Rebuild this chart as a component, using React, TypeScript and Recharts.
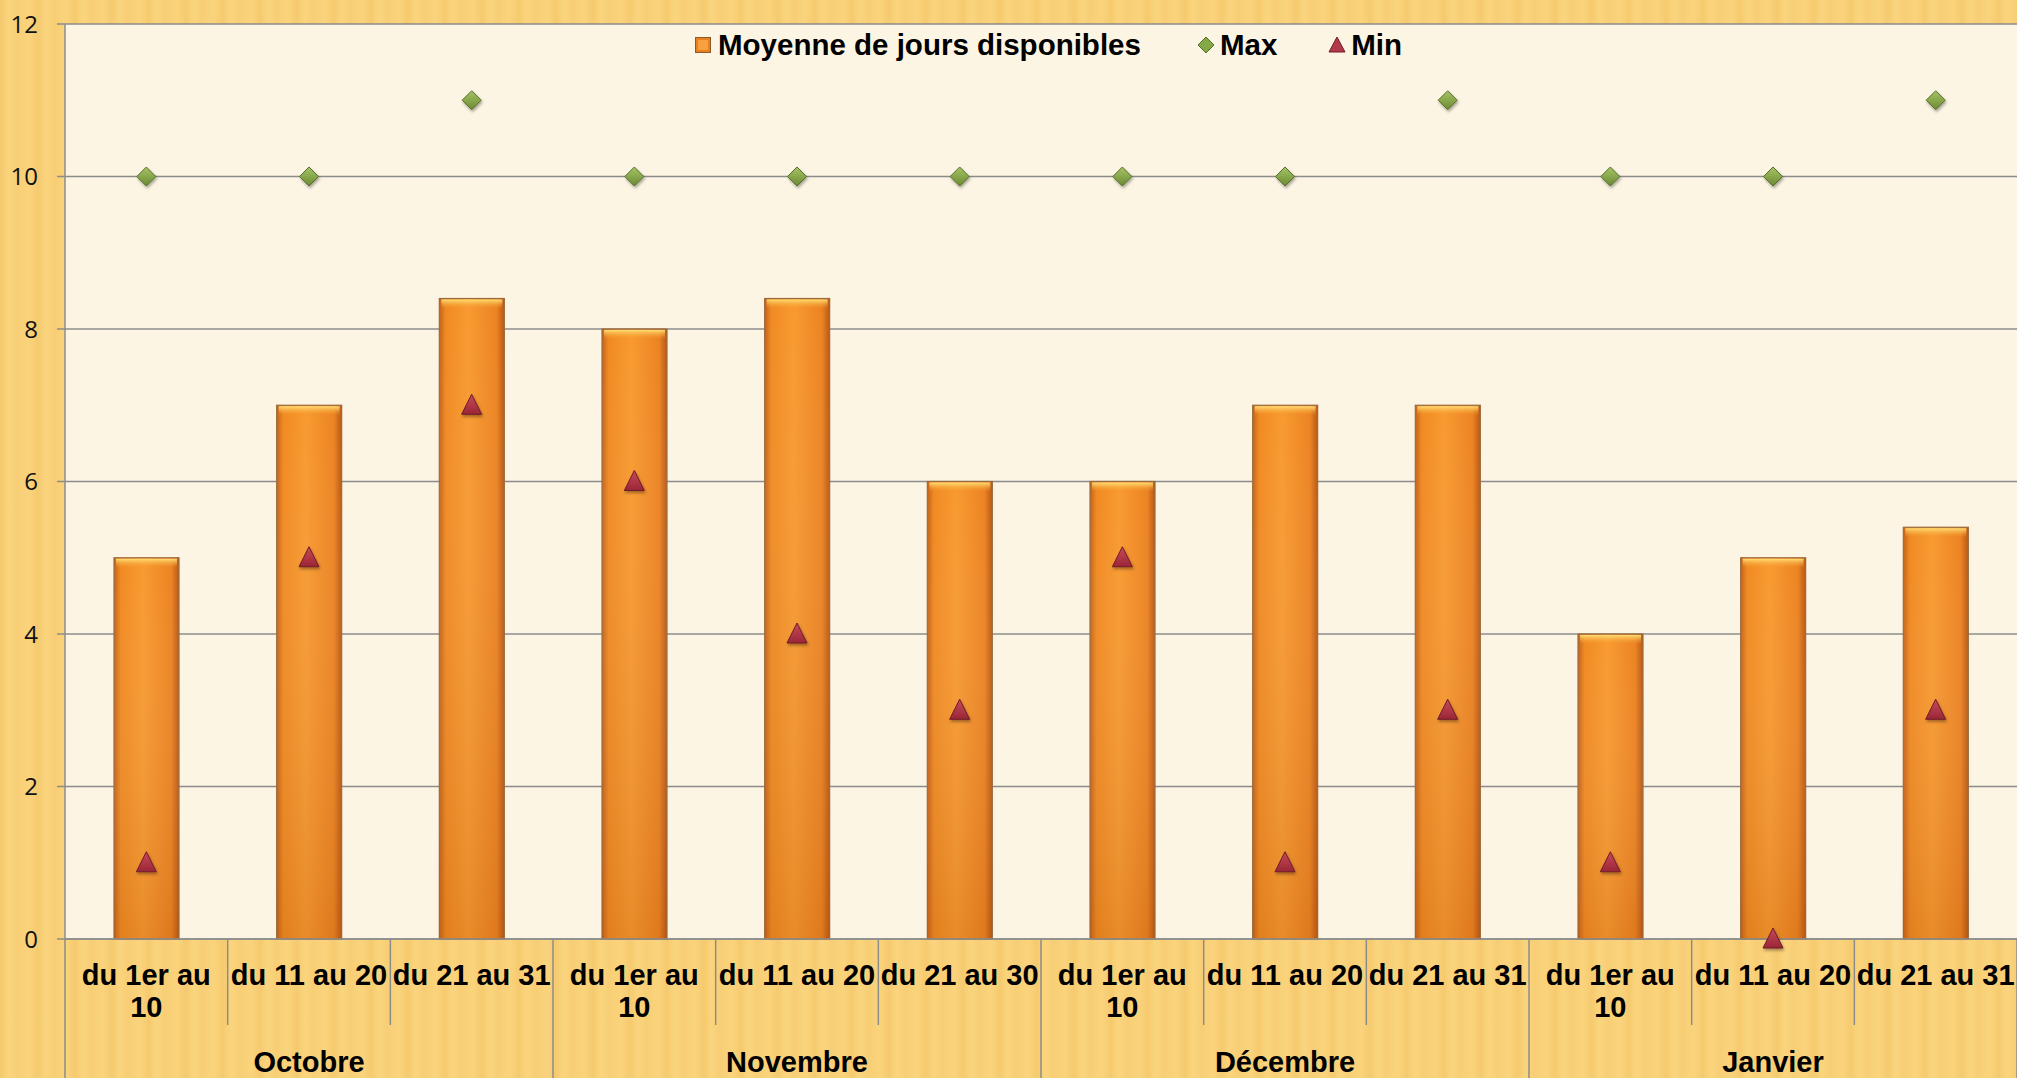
import { ComposedChart, Bar, Scatter, XAxis, YAxis, CartesianGrid, Legend } from "recharts";

const periods = [
  "du 1er au 10",
  "du 11 au 20",
  "du 21 au 31",
  "du 1er au 10",
  "du 11 au 20",
  "du 21 au 30",
  "du 1er au 10",
  "du 11 au 20",
  "du 21 au 31",
  "du 1er au 10",
  "du 11 au 20",
  "du 21 au 31",
];
const months = [
  "Octobre", "Octobre", "Octobre",
  "Novembre", "Novembre", "Novembre",
  "Décembre", "Décembre", "Décembre",
  "Janvier", "Janvier", "Janvier",
];
const moyenne = [5, 7, 8.4, 8, 8.4, 6, 6, 7, 7, 4, 5, 5.4];
const maxJours = [10, 10, 11, 10, 10, 10, 10, 10, 11, 10, 10, 11];
const minJours = [1, 5, 7, 6, 4, 3, 5, 1, 3, 1, 0, 3];
const yTicks = [0, 2, 4, 6, 8, 10, 12];

const data = periods.map((p, i) => ({
  key: String(i),
  periode: p,
  mois: months[i],
  moyenne: moyenne[i],
  max: maxJours[i],
  min: minJours[i],
}));

const W = 2017;
const H = 1078;
const PLOT_LEFT = 65;
const PLOT_TOP = 24;
const PLOT_BOTTOM = 939;
const BAND = (W - PLOT_LEFT) / periods.length;
const GRID = "#8c8c8c";
const LABEL_FONT = "'Liberation Sans', Arial, sans-serif";
const LABEL_SIZE = 29;

// greedy word wrap measured with a canvas, so labels break like the original
const wrapLabel = (label: string, maxWidth: number) => {
  const ctx = document.createElement("canvas").getContext("2d");
  if (!ctx) return [label];
  ctx.font = `bold ${LABEL_SIZE}px 'Liberation Sans'`;
  const words = label.split(" ");
  const lines: string[] = [];
  let cur = "";
  words.forEach((w) => {
    const test = cur ? cur + " " + w : w;
    if (cur && ctx.measureText(test).width > maxWidth) {
      lines.push(cur);
      cur = w;
    } else {
      cur = test;
    }
  });
  if (cur) lines.push(cur);
  return lines;
};

const PeriodTick = (props: any) => {
  const { x, payload } = props;
  const i = Number(payload.value);
  const left = x - BAND / 2;
  const groupStart = i === 0 || months[i] !== months[i - 1];
  let groupSize = 1;
  while (i + groupSize < months.length && months[i + groupSize] === months[i]) groupSize++;
  const isLast = i === periods.length - 1;
  const lines = wrapLabel(periods[i], 160);
  const textStyle = { fontSize: LABEL_SIZE, fontWeight: 700, fontFamily: LABEL_FONT, fill: "#000" };
  return (
    <g>
      <line
        x1={left}
        x2={left}
        y1={PLOT_BOTTOM}
        y2={groupStart ? H : 1025}
        stroke={GRID}
        strokeWidth={1.5}
      />
      {isLast && <line x1={x + BAND / 2} x2={x + BAND / 2} y1={PLOT_BOTTOM} y2={H} stroke={GRID} strokeWidth={1.5} />}
      <text x={x} y={985} textAnchor="middle" style={textStyle}>
        {lines.map((l, k) => (
          <tspan key={k} x={x} dy={k === 0 ? 0 : 32}>
            {l}
          </tspan>
        ))}
      </text>
      {groupStart && (
        <text x={left + (groupSize * BAND) / 2} y={1072} textAnchor="middle" style={textStyle}>
          {months[i]}
        </text>
      )}
    </g>
  );
};

const BarShape = (props: any) => {
  const { x, y, width, height } = props;
  if (!height || height <= 0) return null;
  return (
    <g>
      <rect x={x} y={y} width={width} height={height} fill="url(#barH)" stroke="#9a6a3c" strokeWidth={1.2} />
      <rect x={x} y={y} width={width} height={height} fill="url(#barV)" />
      <rect x={x + 2} y={y + 1} width={width - 4} height={Math.min(9, height - 2)} fill="url(#barTop)" />
    </g>
  );
};

const Diamond = (props: any) => {
  const { cx, cy } = props;
  const r = 9.5;
  return (
    <polygon
      points={`${cx},${cy - r} ${cx + r},${cy} ${cx},${cy + r} ${cx - r},${cy}`}
      fill="url(#greenMark)"
      stroke="#55702a"
      strokeWidth={1}
      filter="url(#markShadow)"
    />
  );
};

const Triangle = (props: any) => {
  const { cx, cy } = props;
  return (
    <polygon
      points={`${cx},${cy - 11} ${cx + 10},${cy + 9} ${cx - 10},${cy + 9}`}
      fill="url(#redMark)"
      stroke="#6e1b28"
      strokeWidth={1}
      filter="url(#markShadow)"
    />
  );
};

const LegendContent = () => {
  const text = { fontSize: 29.5, fontWeight: 700, fontFamily: LABEL_FONT, color: "#000", lineHeight: "38px" };
  return (
    <div style={{ display: "flex", alignItems: "center", height: 38 }}>
      <svg width={16} height={16} style={{ marginRight: 7 }}>
        <rect x={0.5} y={0.5} width={15} height={15} fill="#e8801e" stroke="#8a5a2a" />
        <rect x={3} y={3} width={10} height={10} fill="#f8a040" />
      </svg>
      <span style={text}>Moyenne de jours disponibles</span>
      <svg width={18} height={18} style={{ marginLeft: 56, marginRight: 5 }}>
        <polygon points="9,1 17,9 9,17 1,9" fill="#84a846" stroke="#55702a" />
      </svg>
      <span style={text}>Max</span>
      <svg width={18} height={18} style={{ marginLeft: 51, marginRight: 5 }}>
        <polygon points="9,1 17,16 1,16" fill="#b23a48" stroke="#6e1b28" />
      </svg>
      <span style={text}>Min</span>
    </div>
  );
};

export default function App() {
  return (
    <div
      style={{
        position: "absolute",
        left: 0,
        top: 0,
        width: W,
        height: H,
        overflow: "hidden",
        backgroundColor: "#f9d27b",
        backgroundImage:
          "repeating-linear-gradient(90deg, rgba(232,170,60,0.22) 0px, rgba(255,226,140,0.18) 9px, rgba(238,182,80,0.14) 17px, rgba(255,222,130,0.12) 29px, rgba(236,176,70,0.2) 37px)",
      }}
    >
      <ComposedChart
        width={W}
        height={H}
        data={data}
        margin={{ top: PLOT_TOP, right: 0, left: 0, bottom: 0 }}
        barCategoryGap={0}
      >
        <defs>
          <linearGradient id="barH" x1="0" y1="0" x2="1" y2="0">
            <stop offset="0%" stopColor="#c4621a" />
            <stop offset="10%" stopColor="#f08a22" />
            <stop offset="45%" stopColor="#f89a30" />
            <stop offset="88%" stopColor="#ec8322" />
            <stop offset="100%" stopColor="#b85814" />
          </linearGradient>
          <linearGradient id="barV" x1="0" y1="0" x2="0" y2="1">
            <stop offset="0%" stopColor="#ffffff" stopOpacity={0} />
            <stop offset="100%" stopColor="#a04a08" stopOpacity={0.18} />
          </linearGradient>
          <linearGradient id="barTop" x1="0" y1="0" x2="0" y2="1">
            <stop offset="0%" stopColor="#ffe27a" stopOpacity={0.95} />
            <stop offset="100%" stopColor="#f8a030" stopOpacity={0} />
          </linearGradient>
          <linearGradient id="greenMark" x1="0" y1="0" x2="0" y2="1">
            <stop offset="0%" stopColor="#a6c466" />
            <stop offset="100%" stopColor="#6b8a32" />
          </linearGradient>
          <linearGradient id="redMark" x1="0" y1="0" x2="0" y2="1">
            <stop offset="0%" stopColor="#c94a5a" />
            <stop offset="100%" stopColor="#9a2636" />
          </linearGradient>
          <filter id="markShadow" x="-50%" y="-50%" width="200%" height="200%">
            <feDropShadow dx="1" dy="2" stdDeviation="1.5" floodColor="#000" floodOpacity="0.35" />
          </filter>
        </defs>
        <CartesianGrid vertical={false} stroke={GRID} strokeWidth={1.5} fill="#fdf5e4" fillOpacity={1} />
        <XAxis
          dataKey="key"
          interval={0}
          height={H - PLOT_BOTTOM}
          tickLine={false}
          axisLine={{ stroke: GRID, strokeWidth: 1.5 }}
          tick={<PeriodTick />}
        />
        <YAxis
          width={PLOT_LEFT}
          domain={[0, 12]}
          ticks={yTicks}
          interval={0}
          axisLine={{ stroke: GRID, strokeWidth: 1.5 }}
          tickLine={{ stroke: GRID, strokeWidth: 1.5 }}
          tickSize={8}
          tickMargin={19}
          tick={{ fontSize: 24, fill: "#111", fontFamily: "'Open Sans', sans-serif" }}
        />
        <Legend
          layout="horizontal"
          verticalAlign="middle"
          align="center"
          wrapperStyle={{ top: 26, left: 695, width: 800 }}
          content={<LegendContent />}
        />
        <Bar dataKey="moyenne" name="Moyenne de jours disponibles" barSize={65} shape={<BarShape />} isAnimationActive={false} />
        <Scatter dataKey="max" name="Max" shape={<Diamond />} isAnimationActive={false} />
        <Scatter dataKey="min" name="Min" shape={<Triangle />} isAnimationActive={false} />
      </ComposedChart>
    </div>
  );
}
